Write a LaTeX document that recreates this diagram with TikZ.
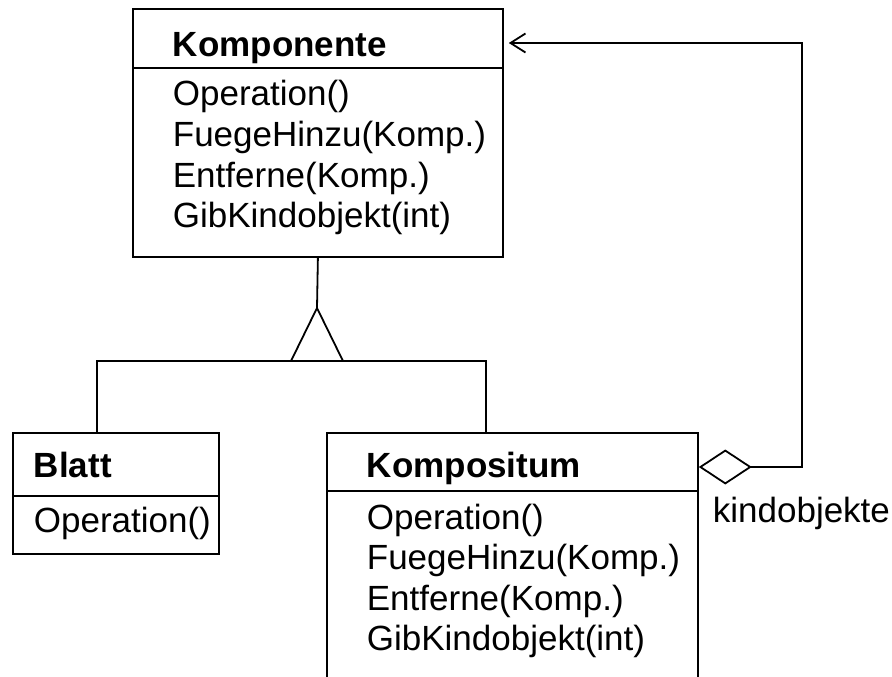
\documentclass[tikz,border=0pt]{standalone}
\usepackage{fontspec}
\setmainfont{Liberation Sans}
\usetikzlibrary{arrows.meta,calc}
\begin{document}
\begin{tikzpicture}[x=1pt,y=-1pt,
  line width=1.8pt,
  classbox/.style={draw, rectangle, anchor=north west, inner sep=0pt},
  txt/.style={anchor=base west, inner sep=0pt, font=\fontsize{35}{40}\selectfont},
  ttl/.style={txt, font=\fontsize{35}{40}\selectfont\bfseries},
]
\useasboundingbox (0,0) rectangle (892,677);
\clip (0,0) rectangle (892,677);

% class boxes
\node[classbox, minimum width=370pt, minimum height=248pt] (komponente) at (132,8) {};
\node[classbox, minimum width=206pt, minimum height=121pt] (blatt) at (12,432) {};
\node[classbox, minimum width=371pt, minimum height=270pt] (kompositum) at (326,432) {};

% compartment separators
\draw ($(komponente.north west)+(0,60)$) -- ($(komponente.north east)+(0,60)$);
\draw ($(blatt.north west)+(0,64)$) -- ($(blatt.north east)+(0,64)$);
\draw ($(kompositum.north west)+(0,59)$) -- ($(kompositum.north east)+(0,59)$);

% class names
\node[ttl] (komponente-name) at (172,57) {Komponente};
\node[ttl] (blatt-name) at (33,477) {Blatt};
\node[ttl] (kompositum-name) at (366,477) {Kompositum};

% operations
\foreach \op [count=\i from 0] in {Operation(),FuegeHinzu(Komp.),Entferne(Komp.),GibKindobjekt(int)} {
  \node[txt] (komponente-op\i) at (172,106+40.5*\i) {\op};
  \node[txt] (kompositum-op\i) at (366,529+40.5*\i) {\op};
}
\node[txt] (blatt-op0) at (33,532) {Operation()};

% generalization
\coordinate (apex) at (317,308);
\coordinate (gbase) at (317,361);
\coordinate (bj) at (97,361);
\coordinate (kj) at (486,361);
\draw (komponente.south) -- (apex);
\draw (apex) -- ($(gbase)+(-26,0)$) -- ($(gbase)+(26,0)$) -- cycle;
\draw (bj |- blatt.north) -- (bj) -- (kj) -- (kj |- kompositum.north);

% aggregation
\coordinate (rail) at (802,0);
\coordinate (aggstart) at ($(kompositum.north east)+(0,35)$);
\coordinate (aggend) at ($(komponente.north east)+(5,35)$);
\draw[{Diamond[open,length=53pt,width=35pt]}-{Straight Barb[length=15pt,width=19pt]}]
  (aggstart) -- (aggstart -| rail) -- (aggend -| rail) -- (aggend);
\node[txt] (kindlabel) at (712,522) {kindobjekte};
\end{tikzpicture}
\end{document}
